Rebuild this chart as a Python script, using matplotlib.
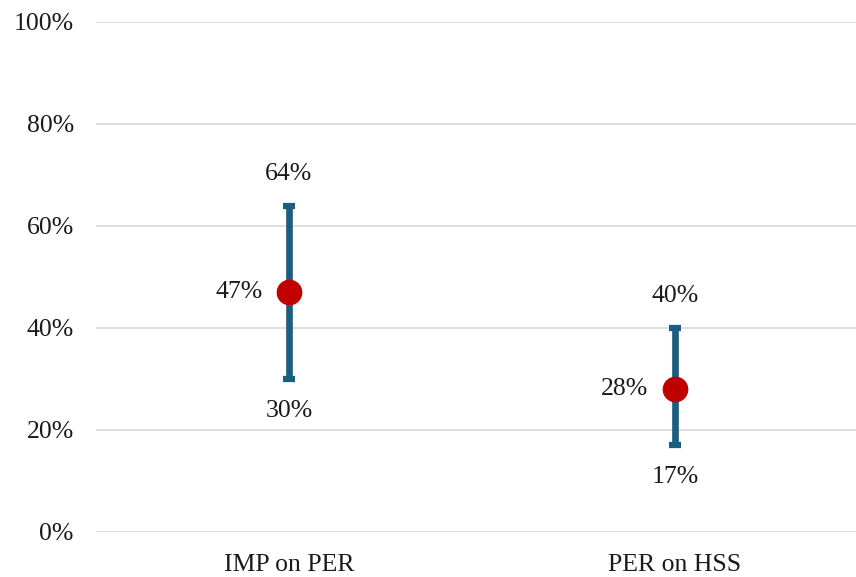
import matplotlib
matplotlib.use("Agg")
import matplotlib.pyplot as plt
from matplotlib.ticker import FuncFormatter

categories = ["IMP on PER", "PER on HSS"]
estimate = [47, 28]
lower = [30, 17]
upper = [64, 40]
yticks = [0, 20, 40, 60, 80, 100]

plt.rcParams['font.family'] = ['Liberation Serif', 'DejaVu Serif']
txt = '#1a1a1a'
fs = 18.5

fig = plt.figure(figsize=(8.56, 5.77), dpi=100)
ax = fig.add_axes([96/856, 1-532/577, 1-96/856, 510/577])

x = list(range(len(categories)))
yerr = [[e - l for e, l in zip(estimate, lower)], [u - e for e, u in zip(estimate, upper)]]
ax.errorbar(x, estimate, yerr=yerr, fmt='none', ecolor='#1B5E80', elinewidth=4.8,
            capsize=4.3, capthick=4.5, zorder=3)
ax.plot(x, estimate, 'o', color='#C00000', markersize=17.5, zorder=4)

for xi, e, l, u in zip(x, estimate, lower, upper):
    ax.annotate(f"{u}%", (xi, u), xytext=(0, 23), textcoords='offset points',
                ha='center', va='center', fontsize=fs, color=txt)
    ax.annotate(f"{l}%", (xi, l), xytext=(0, -23), textcoords='offset points',
                ha='center', va='center', fontsize=fs, color=txt)
    ax.annotate(f"{e}%", (xi, e), xytext=(-19, 0), textcoords='offset points',
                ha='right', va='center', fontsize=fs, color=txt)

ax.set_xlim(-0.5, 1.469)
ax.set_ylim(0, 100)
ax.set_yticks(yticks)
ax.yaxis.set_major_formatter(FuncFormatter(lambda v, p: f"{int(v)}%"))
ax.set_xticks(x)
ax.set_xticklabels(categories)
ax.grid(axis='y', color='#D9D9D9', linewidth=1.2)
ax.set_axisbelow(True)
for s in ax.spines.values():
    s.set_visible(False)
ax.tick_params(axis='both', length=0, labelsize=fs, colors=txt)
ax.tick_params(axis='y', pad=16)
ax.tick_params(axis='x', pad=16)

fig.savefig("out.png", dpi=100)
